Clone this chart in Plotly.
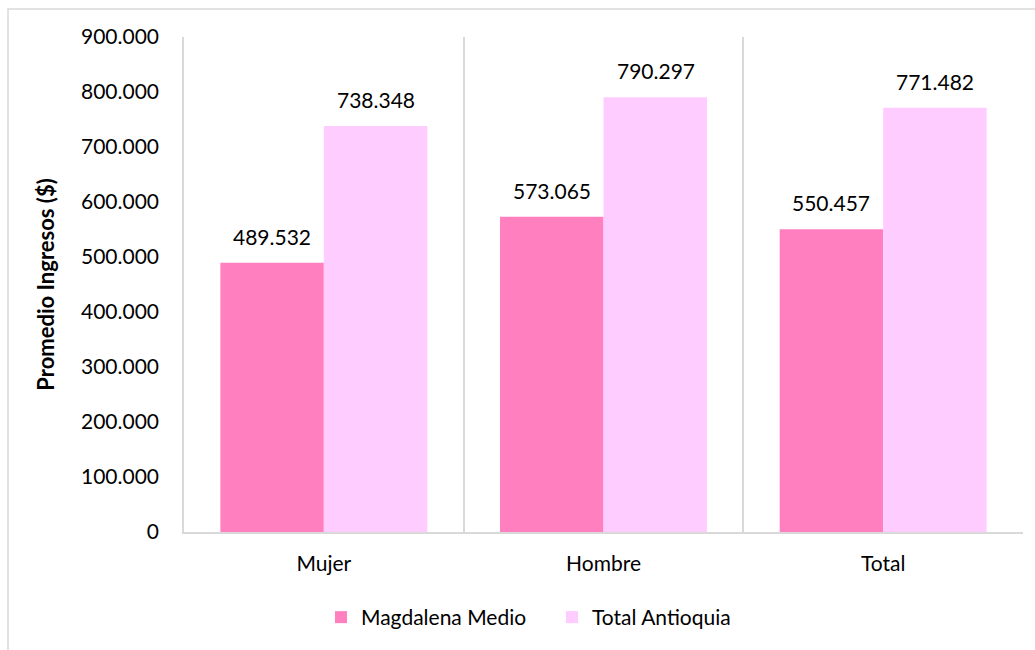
import plotly.graph_objects as go

categories = ["Mujer", "Hombre", "Total"]
magdalena_medio = [489532, 573065, 550457]
total_antioquia = [738348, 790297, 771482]
series_names = ["Magdalena Medio", "Total Antioquia"]
y_ticks = [0, 100000, 200000, 300000, 400000, 500000, 600000, 700000, 800000, 900000]

FONT = "Lato"
FS = 21
W, H = 1035, 650
L, R, T, B = 184, 12, 37, 118

fig = go.Figure()
colors = ["#FF7FBF", "#FFCCFF"]
for name, vals, col in zip(series_names, [magdalena_medio, total_antioquia], colors):
    fig.add_trace(go.Bar(
        x=categories, y=vals, name=name,
        marker=dict(color=col, line=dict(width=0)),
        hoverinfo="skip",
    ))

# value labels above bars
for i, (name, vals) in enumerate(zip(series_names, [magdalena_medio, total_antioquia])):
    shift = -52 if i == 0 else 52
    for c, v in zip(categories, vals):
        fig.add_annotation(x=c, y=v, text=f"{v:,d}".replace(",", "."), showarrow=False,
                           xshift=shift, yshift=12, yanchor="bottom",
                           font=dict(family=FONT, size=FS, color="#000000"))

pw = W - L - R
ph = H - T - B
fig.add_shape(type="rect", xref="paper", yref="paper",
              x0=(8 - L) / pw, x1=(1040 - L) / pw,
              y0=(H - B - 660) / ph, y1=(H - B - 9) / ph,
              line=dict(color="#D9D9D9", width=1.5), fillcolor="rgba(0,0,0,0)", layer="below")

fig.update_layout(
    width=W, height=H,
    margin=dict(l=L, r=R, t=T, b=B, autoexpand=False),
    paper_bgcolor="white", plot_bgcolor="white",
    barmode="group", bargap=0.26, bargroupgap=0,
    separators=",.",
    font=dict(family=FONT, size=FS, color="#000000"),
    showlegend=True,
    legend=dict(orientation="h", x=(321 - L) / pw, xanchor="left", y=-(597 - 532) / 495, yanchor="top",
                font=dict(family=FONT, size=FS), traceorder="normal",
                entrywidth=186, entrywidthmode="pixels"),
)
fig.update_xaxes(
    type="category", tickson="boundaries", showgrid=True, gridcolor="#D9D9D9", gridwidth=1.5,
    showline=True, linecolor="#D9D9D9", linewidth=1.5, ticks="", ticklen=0, ticklabelstandoff=12,
    tickfont=dict(family=FONT, size=FS), range=[-0.5, 2.5], automargin=False,
)
fig.update_yaxes(
    range=[0, 900000], tickvals=y_ticks, tickformat=",d", showgrid=False,
    showline=True, linecolor="#D9D9D9", linewidth=1.5, ticks="", ticklabelstandoff=19,
    tickfont=dict(family=FONT, size=FS), zeroline=False, automargin=False,
    title=dict(text="<b>Promedio Ingresos ($)</b>", font=dict(family=FONT, size=22), standoff=20),
)

fig.write_html("out.html", config={"displayModeBar": False},
               post_script="document.body.style.margin='0';document.body.style.overflow='hidden';")
